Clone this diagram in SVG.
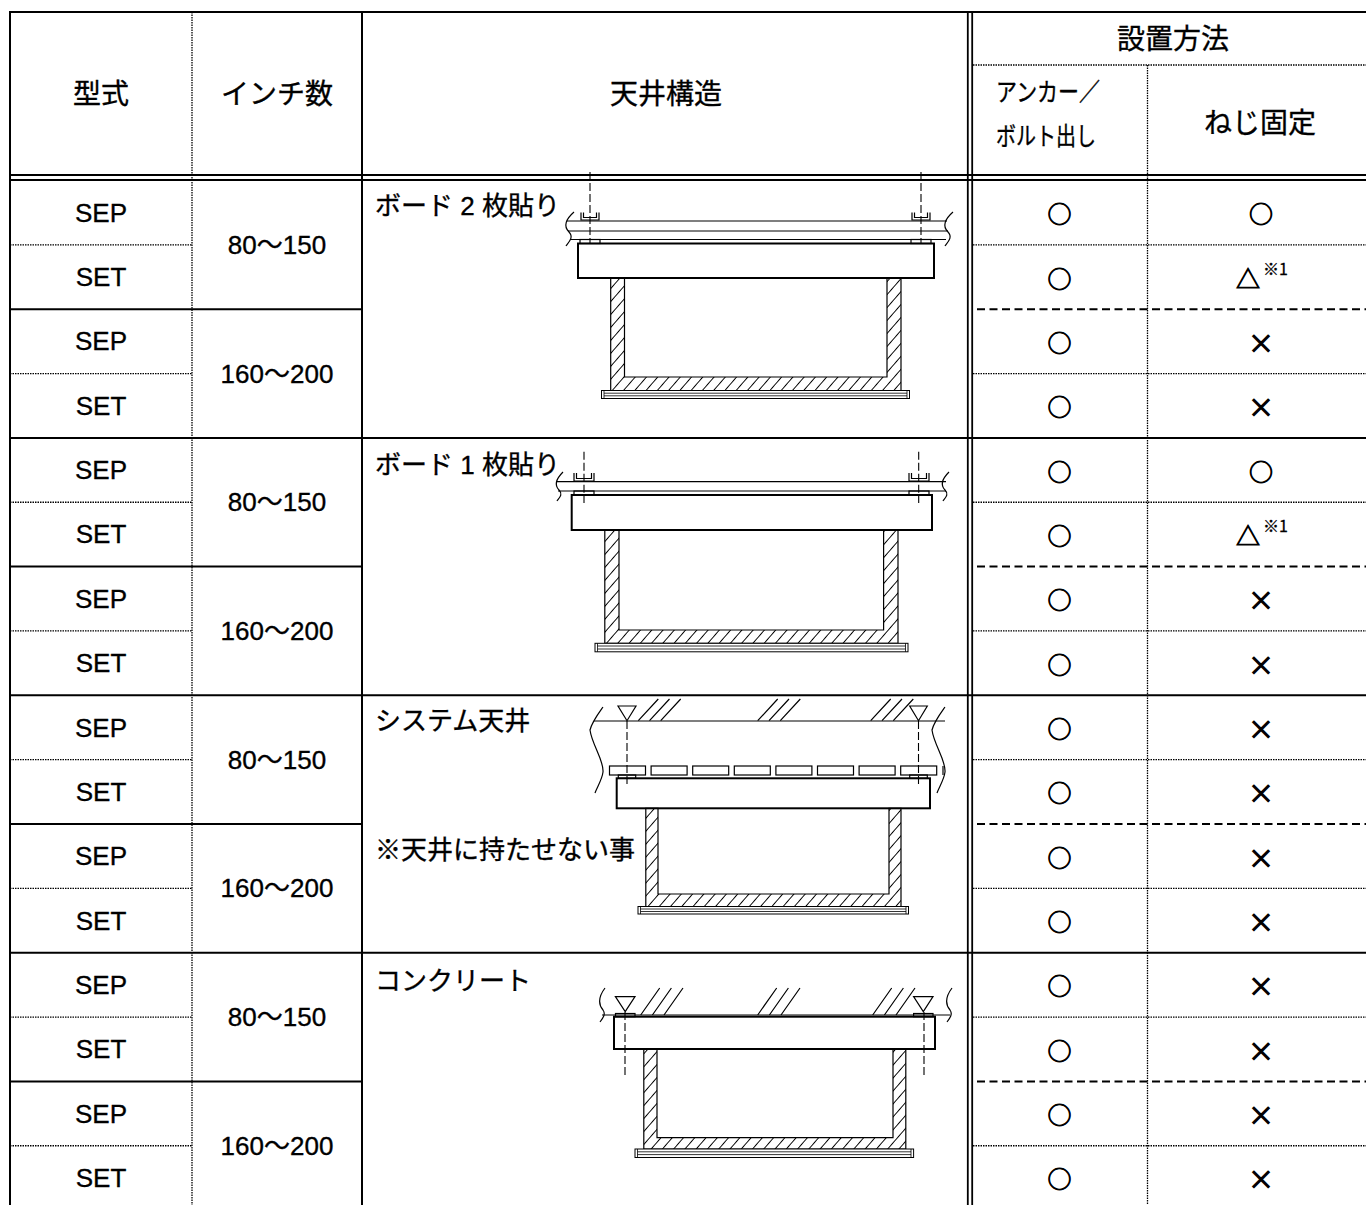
<svg xmlns="http://www.w3.org/2000/svg" width="1366" height="1205" viewBox="0 0 1366 1205">
<defs>
<pattern id="hatch" width="8.5" height="20" patternUnits="userSpaceOnUse" patternTransform="rotate(41)">
<line x1="4.25" y1="-2" x2="4.25" y2="22" stroke="#000" stroke-width="1"/>
</pattern>
<style>
.t{font-family:"Liberation Sans","Noto Sans CJK JP",sans-serif;font-size:26px;fill:#000;stroke:#000;stroke-width:0.35;text-anchor:middle;dominant-baseline:central}
.h{font-size:28px}
.sm{font-size:25px}
.lab{text-anchor:start}
.sym{font-family:"Noto Sans CJK JP","Liberation Sans",sans-serif;font-size:24px;stroke-width:0.9}
.x{font-size:26px;stroke-width:1.1}
.sup{font-family:"Noto Sans CJK JP","Liberation Sans",sans-serif;font-size:16px;fill:#000;stroke:#000;stroke-width:0.3}
.solid{stroke:#000;stroke-width:2;fill:none}
.dbl{stroke:#000;stroke-width:1.8;fill:none}
.dot{stroke:#000;stroke-width:1.3;stroke-dasharray:1.5 1;fill:none}
.dash{stroke:#000;stroke-width:2;stroke-dasharray:8 4.5;fill:none}
.thin{stroke:#000;stroke-width:1.2;fill:none}
.box{stroke:#000;stroke-width:2;fill:none}
.wall{stroke:#000;stroke-width:1.2;fill:url(#hatch)}
.cl{stroke:#000;stroke-width:1.1;stroke-dasharray:8 3;fill:none}
.tri{stroke:#000;stroke-width:1.2;fill:#fff}
.bar{stroke:#000;stroke-width:1;fill:#fff}
.bl{stroke:#000;stroke-width:0.8;fill:none}
</style>
</defs>
<rect width="1366" height="1205" fill="#fff"/>

<g id="grid-lines">
<line class="solid" x1="9" y1="12" x2="1366" y2="12"/>
<line class="solid" x1="9" y1="175" x2="1366" y2="175"/>
<line class="solid" x1="9" y1="180" x2="1366" y2="180"/>
<line class="dot" x1="973" y1="65" x2="1366" y2="65"/>

<line class="dot" x1="10" y1="244.85" x2="192" y2="244.85"/>
<line class="dot" x1="973" y1="244.85" x2="1366" y2="244.85"/>
<line class="solid" x1="10" y1="309.2" x2="362" y2="309.2"/>
<line class="dash" x1="977" y1="309.2" x2="1366" y2="309.2"/>
<line class="dot" x1="10" y1="373.55" x2="192" y2="373.55"/>
<line class="dot" x1="973" y1="373.55" x2="1366" y2="373.55"/>
<line class="solid" x1="9" y1="437.9" x2="1366" y2="437.9"/>

<line class="dot" x1="10" y1="502.25" x2="192" y2="502.25"/>
<line class="dot" x1="973" y1="502.25" x2="1366" y2="502.25"/>
<line class="solid" x1="10" y1="566.6" x2="362" y2="566.6"/>
<line class="dash" x1="977" y1="566.6" x2="1366" y2="566.6"/>
<line class="dot" x1="10" y1="630.95" x2="192" y2="630.95"/>
<line class="dot" x1="973" y1="630.95" x2="1366" y2="630.95"/>
<line class="solid" x1="9" y1="695.3" x2="1366" y2="695.3"/>

<line class="dot" x1="10" y1="759.65" x2="192" y2="759.65"/>
<line class="dot" x1="973" y1="759.65" x2="1366" y2="759.65"/>
<line class="solid" x1="10" y1="824" x2="362" y2="824"/>
<line class="dash" x1="977" y1="824" x2="1366" y2="824"/>
<line class="dot" x1="10" y1="888.35" x2="192" y2="888.35"/>
<line class="dot" x1="973" y1="888.35" x2="1366" y2="888.35"/>
<line class="solid" x1="9" y1="952.7" x2="1366" y2="952.7"/>

<line class="dot" x1="10" y1="1017.05" x2="192" y2="1017.05"/>
<line class="dot" x1="973" y1="1017.05" x2="1366" y2="1017.05"/>
<line class="solid" x1="10" y1="1081.4" x2="362" y2="1081.4"/>
<line class="dash" x1="977" y1="1081.4" x2="1366" y2="1081.4"/>
<line class="dot" x1="10" y1="1145.75" x2="192" y2="1145.75"/>
<line class="dot" x1="973" y1="1145.75" x2="1366" y2="1145.75"/>

<line class="solid" x1="10" y1="11" x2="10" y2="1205"/>
<line class="dot" x1="192" y1="12" x2="192" y2="1205"/>
<line class="solid" x1="362" y1="11" x2="362" y2="1205"/>
<line class="dbl" x1="967.8" y1="11" x2="967.8" y2="1205"/>
<line class="dbl" x1="972.2" y1="11" x2="972.2" y2="1205"/>
<line class="dot" x1="1147.5" y1="65" x2="1147.5" y2="1205"/>
</g>

<g id="header">
<text class="t h" x="101" y="94">型式</text>
<text class="t h" x="277" y="94">インチ数</text>
<text class="t h" x="666" y="94">天井構造</text>
<text class="t h" x="1173" y="39">設置方法</text>
<text class="t sm" x="1048" y="92" textLength="104" lengthAdjust="spacingAndGlyphs">アンカー／</text>
<text class="t sm" x="1046" y="136" textLength="100" lengthAdjust="spacingAndGlyphs">ボルト出し</text>
<text class="t h" x="1260" y="123">ねじ固定</text>
</g>

<g id="col-model">
<text class="t" x="101" y="212.7">SEP</text>
<text class="t" x="101" y="277">SET</text>
<text class="t" x="101" y="341.4">SEP</text>
<text class="t" x="101" y="405.7">SET</text>
<text class="t" x="101" y="470.1">SEP</text>
<text class="t" x="101" y="534.4">SET</text>
<text class="t" x="101" y="598.8">SEP</text>
<text class="t" x="101" y="663.1">SET</text>
<text class="t" x="101" y="727.5">SEP</text>
<text class="t" x="101" y="791.8">SET</text>
<text class="t" x="101" y="856.2">SEP</text>
<text class="t" x="101" y="920.5">SET</text>
<text class="t" x="101" y="984.9">SEP</text>
<text class="t" x="101" y="1049.2">SET</text>
<text class="t" x="101" y="1113.6">SEP</text>
<text class="t" x="101" y="1177.9">SET</text>
</g>

<g id="col-inch">
<text class="t" x="277" y="244.85">80〜150</text>
<text class="t" x="277" y="373.55">160〜200</text>
<text class="t" x="277" y="502.25">80〜150</text>
<text class="t" x="277" y="630.95">160〜200</text>
<text class="t" x="277" y="759.65">80〜150</text>
<text class="t" x="277" y="888.35">160〜200</text>
<text class="t" x="277" y="1017.05">80〜150</text>
<text class="t" x="277" y="1145.75">160〜200</text>
</g>

<g id="col-anchor">
<text class="t sym" x="1059.5" y="212.7">○</text>
<text class="t sym" x="1059.5" y="277">○</text>
<text class="t sym" x="1059.5" y="341.4">○</text>
<text class="t sym" x="1059.5" y="405.7">○</text>
<text class="t sym" x="1059.5" y="470.1">○</text>
<text class="t sym" x="1059.5" y="534.4">○</text>
<text class="t sym" x="1059.5" y="598.8">○</text>
<text class="t sym" x="1059.5" y="663.1">○</text>
<text class="t sym" x="1059.5" y="727.5">○</text>
<text class="t sym" x="1059.5" y="791.8">○</text>
<text class="t sym" x="1059.5" y="856.2">○</text>
<text class="t sym" x="1059.5" y="920.5">○</text>
<text class="t sym" x="1059.5" y="984.9">○</text>
<text class="t sym" x="1059.5" y="1049.2">○</text>
<text class="t sym" x="1059.5" y="1113.6">○</text>
<text class="t sym" x="1059.5" y="1177.9">○</text>
</g>

<g id="col-screw">
<text class="t sym" x="1261" y="212.7">○</text>
<text class="t sym" x="1248" y="277">△</text><text class="sup" x="1263" y="275">※1</text>
<text class="t sym x" x="1261" y="341.4">×</text>
<text class="t sym x" x="1261" y="405.7">×</text>
<text class="t sym" x="1261" y="470.1">○</text>
<text class="t sym" x="1248" y="534.4">△</text><text class="sup" x="1263" y="532.4">※1</text>
<text class="t sym x" x="1261" y="598.8">×</text>
<text class="t sym x" x="1261" y="663.1">×</text>
<text class="t sym x" x="1261" y="727.5">×</text>
<text class="t sym x" x="1261" y="791.8">×</text>
<text class="t sym x" x="1261" y="856.2">×</text>
<text class="t sym x" x="1261" y="920.5">×</text>
<text class="t sym x" x="1261" y="984.9">×</text>
<text class="t sym x" x="1261" y="1049.2">×</text>
<text class="t sym x" x="1261" y="1113.6">×</text>
<text class="t sym x" x="1261" y="1177.9">×</text>
</g>

<g id="drawing-board2">
<text class="t lab" x="375" y="206">ボード 2 枚貼り</text>
<path class="thin" d="M574,212 C566,219 563,226 569,232 C574,237 569,242 566,246"/>
<path class="thin" d="M953,212 C945,219 942,226 948,232 C953,237 948,242 945,246"/>
<line class="thin" x1="567" y1="221" x2="947" y2="221"/>
<line class="thin" x1="568" y1="231" x2="948" y2="231"/>
<line class="thin" x1="570" y1="239.5" x2="946" y2="239.5"/>
<path class="thin" d="M581,212.5 V220 H599 V212.5 M583.5,212.5 V217.5 H596.5 V212.5"/>
<path class="thin" d="M912,212.5 V220 H930 V212.5 M914.5,212.5 V217.5 H927.5 V212.5"/>
<rect class="thin" x="580" y="239.5" width="20" height="4"/>
<rect class="thin" x="911" y="239.5" width="20" height="4"/>
<rect class="box" x="578" y="243.5" width="356" height="34.5"/>
<path class="wall" d="M610.7,278 V390.5 H901 V278 H887 V377 H624.5 V278 Z"/>
<rect class="bar" x="601.5" y="390.5" width="308" height="8"/>
<path class="bl" d="M604,393.2 H907 M604,395.8 H907 M604,390.5 V398.5 M907,390.5 V398.5"/>
<line class="cl" x1="590" y1="172" x2="590" y2="243"/>
<line class="cl" x1="921" y1="172" x2="921" y2="243"/>
</g>

<g id="drawing-board1">
<text class="t lab" x="375" y="465">ボード 1 枚貼り</text>
<path class="thin" d="M563,472 C556,479 554,485 559,490 C563,494 560,497 557,501"/>
<path class="thin" d="M949,472 C942,479 940,485 945,490 C949,494 946,497 943,501"/>
<line class="thin" x1="556" y1="481.7" x2="946" y2="481.7"/>
<line class="thin" x1="558" y1="491" x2="946" y2="491"/>
<path class="thin" d="M574,473 V481 H594 V473 M576.5,473 V478.5 H591.5 V473"/>
<path class="thin" d="M909,473 V481 H929 V473 M911.5,473 V478.5 H926.5 V473"/>
<rect class="thin" x="574" y="491" width="20" height="4"/>
<rect class="thin" x="909" y="491" width="20" height="4"/>
<rect class="box" x="571.7" y="495" width="360.3" height="35"/>
<path class="wall" d="M604.8,530 V643.3 H898 V530 H883.6 V630 H619 V530 Z"/>
<rect class="bar" x="595" y="643.3" width="313" height="8.5"/>
<path class="bl" d="M597.5,646 H905.5 M597.5,649 H905.5 M597.5,643.3 V651.8 M905.5,643.3 V651.8"/>
<line class="cl" x1="584" y1="451.7" x2="584" y2="503"/>
<line class="cl" x1="918.7" y1="451.7" x2="918.7" y2="503"/>
</g>

<g id="drawing-system">
<text class="t lab" x="375" y="721">システム天井</text>
<text class="t lab" x="375" y="850">※天井に持たせない事</text>
<line class="thin" x1="594" y1="721" x2="945" y2="721"/>
<path class="thin" d="M638.3,720.7 L658.3,699 M649.5,720.7 L669.5,699 M660.7,720.7 L680.7,699 M757.7,720.7 L777.7,699 M769,720.7 L789,699 M780.3,720.7 L800.3,699 M870.7,720.7 L890.7,699 M882,720.7 L902,699 M893.3,720.7 L913.3,699"/>
<path class="thin" d="M603,707 C598,714 592,722 590,730 C592,745 604,760 603,772 C602,780 597,787 595,793"/>
<path class="thin" d="M945,707 C940,714 934,722 932,730 C934,745 946,760 945,772 C944,780 939,787 937,793"/>
<path class="tri" d="M618,706 H636 L627,720.7 Z"/>
<path class="tri" d="M909.7,706 H927.3 L918.5,720.7 Z"/>
<rect class="thin" x="609.5" y="766" width="36" height="9"/>
<rect class="thin" x="651.1" y="766" width="36" height="9"/>
<rect class="thin" x="692.7" y="766" width="36" height="9"/>
<rect class="thin" x="734.3" y="766" width="36" height="9"/>
<rect class="thin" x="775.9" y="766" width="36" height="9"/>
<rect class="thin" x="817.5" y="766" width="36" height="9"/>
<rect class="thin" x="859.1" y="766" width="36" height="9"/>
<rect class="thin" x="900.7" y="766" width="36" height="9"/>
<line class="thin" x1="943" y1="766" x2="943" y2="775"/>
<rect class="thin" x="618.3" y="775" width="17.4" height="3.3"/>
<rect class="thin" x="909.7" y="775" width="17.6" height="3.3"/>
<rect class="box" x="616.7" y="778.3" width="313.3" height="30"/>
<path class="wall" d="M645.8,808.3 V906.5 H901 V808.3 H889 V894 H658 V808.3 Z"/>
<rect class="bar" x="638" y="906.5" width="270.5" height="7.5"/>
<path class="bl" d="M640.5,909 H906 M640.5,911.5 H906 M640.5,906.5 V914 M906,906.5 V914"/>
<line class="cl" x1="627" y1="721" x2="627" y2="785"/>
<line class="cl" x1="918.5" y1="721" x2="918.5" y2="785"/>
</g>

<g id="drawing-concrete">
<text class="t lab" x="375" y="981">コンクリート</text>
<line class="thin" x1="602" y1="1015" x2="950" y2="1015"/>
<path class="thin" d="M640.7,1015 L659.7,988 M652.4,1015 L671.4,988 M664,1015 L683,988 M757.7,1015 L776.7,988 M769.4,1015 L788.4,988 M781,1015 L800,988 M872.7,1015 L891.7,988 M884.4,1015 L903.4,988 M896,1015 L915,988"/>
<path class="thin" d="M605,988 C599,996 598,1004 603,1010 C606,1014 603,1018 600,1022"/>
<path class="thin" d="M952,988 C946,996 945,1004 950,1010 C953,1014 950,1018 947,1022"/>
<path class="tri" d="M615.4,996.7 H635 L625.2,1011.7 Z"/>
<path class="tri" d="M913.6,996.7 H933 L923.3,1011.7 Z"/>
<rect class="thin" x="615.5" y="1013.5" width="19.5" height="3.2"/>
<rect class="thin" x="913.6" y="1013.5" width="19.4" height="3.2"/>
<rect class="box" x="614" y="1016.7" width="321" height="32.3"/>
<path class="wall" d="M643.8,1049 V1149 H905.8 V1049 H893 V1137.7 H657 V1049 Z"/>
<rect class="bar" x="635" y="1149" width="278.6" height="8.5"/>
<path class="bl" d="M637.5,1151.8 H911 M637.5,1154.6 H911 M637.5,1149 V1157.5 M911,1149 V1157.5"/>
<line class="cl" x1="625" y1="1012" x2="625" y2="1078"/>
<line class="cl" x1="924" y1="1012" x2="924" y2="1078"/>
</g>
</svg>
